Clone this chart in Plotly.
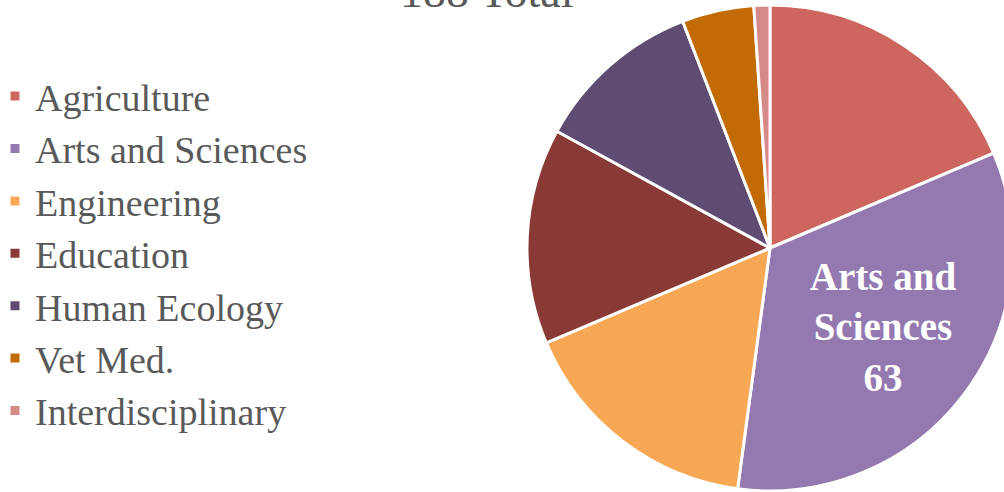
import plotly.graph_objects as go

labels = ["Agriculture", "Arts and Sciences", "Engineering", "Education",
          "Human Ecology", "Vet Med.", "Interdisciplinary"]
values = [35, 63, 31, 27, 21, 9, 2]
colors = ["#CD665F", "#9379B0", "#F8A754", "#8A3A36", "#5E4C73", "#C26A04", "#D58A88"]
slice_text = ["", "&nbsp;&nbsp;Arts and<br>&nbsp;&nbsp;Sciences<br>&nbsp;&nbsp;63", "", "", "", "", ""]
title_text = "188 Total"

FONT = "Liberation Serif, Times New Roman, serif"
W, H = 1013, 492

fig = go.Figure(go.Pie(
    labels=labels,
    values=values,
    text=slice_text,
    textinfo="text",
    textposition="inside",
    insidetextorientation="horizontal",
    insidetextfont=dict(family=FONT, size=39, color="white", weight="bold"),
    marker=dict(colors=colors, line=dict(color="white", width=3)),
    sort=False,
    direction="clockwise",
    rotation=0,
    domain=dict(x=[527 / W, 1.0], y=[1 / H, 487 / H]),
    hoverinfo="label+value",
))

fig.add_annotation(
    text=title_text, x=487 / W, y=1, xref="paper", yref="paper",
    xanchor="center", yanchor="middle", yshift=9, showarrow=False,
    font=dict(family=FONT, size=46, color="#595959"),
)

fig.update_layout(
    width=W, height=H,
    margin=dict(l=0, r=0, t=0, b=0),
    paper_bgcolor="white", plot_bgcolor="white",
    font=dict(family=FONT, color="#595959"),
    legend=dict(x=0, xanchor="left", y=0.485, yanchor="middle", indentation=-5,
                font=dict(family=FONT, size=38, color="#595959"),
                bgcolor="rgba(0,0,0,0)"),
    showlegend=True,
)

fig.write_html(
    "out.html",
    config={"displayModeBar": False},
    post_script="document.body.style.margin='0';document.body.style.overflow='hidden';",
)
